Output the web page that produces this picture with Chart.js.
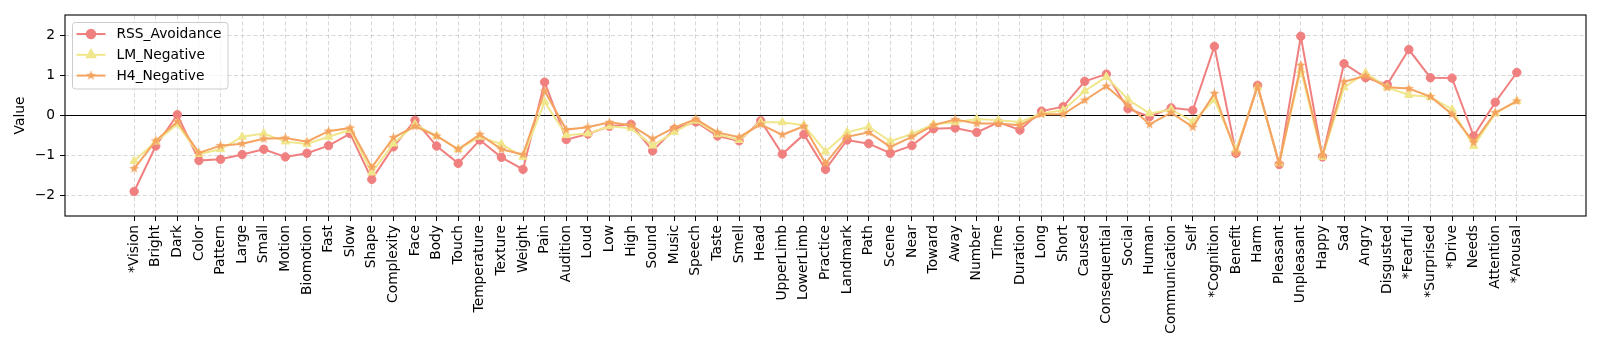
<!DOCTYPE html>
<html>
<head>
<meta charset="utf-8">
<script src="https://cdn.jsdelivr.net/npm/chart.js@4"></script>
<style>
body { margin: 0; background: #fff; }
</style>
</head>
<body>
<canvas id="dimChart" width="1600" height="350"></canvas>
<script>
var categories = ['*Vision', 'Bright', 'Dark', 'Color', 'Pattern', 'Large', 'Small', 'Motion', 'Biomotion', 'Fast',
    'Slow', 'Shape', 'Complexity', 'Face', 'Body', 'Touch', 'Temperature', 'Texture', 'Weight', 'Pain',
    'Audition', 'Loud', 'Low', 'High', 'Sound', 'Music', 'Speech', 'Taste', 'Smell', 'Head',
    'UpperLimb', 'LowerLimb', 'Practice', 'Landmark', 'Path', 'Scene', 'Near', 'Toward', 'Away', 'Number',
    'Time', 'Duration', 'Long', 'Short', 'Caused', 'Consequential', 'Social', 'Human', 'Communication', 'Self',
    '*Cognition', 'Benefit', 'Harm', 'Pleasant', 'Unpleasant', 'Happy', 'Sad', 'Angry', 'Disgusted', '*Fearful',
    '*Surprised', '*Drive', 'Needs', 'Attention', '*Arousal'];

var rssAvoidance = [-1.89, -0.76, 0.02, -1.12, -1.09, -0.97, -0.84, -1.03, -0.94, -0.75,
    -0.45, -1.59, -0.78, -0.12, -0.76, -1.19, -0.61, -1.04, -1.34, 0.83,
    -0.60, -0.46, -0.27, -0.22, -0.88, -0.34, -0.16, -0.51, -0.63, -0.13,
    -0.96, -0.47, -1.34, -0.61, -0.70, -0.94, -0.75, -0.33, -0.31, -0.42,
    -0.17, -0.36, 0.11, 0.22, 0.85, 1.03, 0.17, -0.03, 0.19, 0.13,
    1.72, -0.94, 0.75, -1.22, 1.97, -1.03, 1.29, 0.94, 0.77, 1.64,
    0.94, 0.93, -0.51, 0.33, 1.07];

var lmNegative = [-1.13, -0.65, -0.22, -0.96, -0.84, -0.53, -0.45, -0.65, -0.71, -0.53,
    -0.36, -1.42, -0.70, -0.22, -0.51, -0.84, -0.53, -0.71, -1.03, 0.34,
    -0.49, -0.45, -0.27, -0.32, -0.75, -0.41, -0.13, -0.47, -0.61, -0.17,
    -0.17, -0.24, -0.90, -0.42, -0.28, -0.64, -0.46, -0.22, -0.17, -0.09,
    -0.12, -0.16, 0.05, 0.13, 0.61, 0.96, 0.40, 0.05, 0.15, -0.15,
    0.39, -0.85, 0.70, -1.19, 1.13, -1.03, 0.70, 1.06, 0.70, 0.51,
    0.46, 0.15, -0.76, 0.05, 0.36];

var h4Negative = [-1.32, -0.63, -0.15, -0.93, -0.75, -0.70, -0.58, -0.56, -0.65, -0.39,
    -0.31, -1.29, -0.55, -0.27, -0.51, -0.84, -0.47, -0.84, -0.97, 0.61,
    -0.35, -0.29, -0.17, -0.24, -0.58, -0.30, -0.09, -0.42, -0.54, -0.22,
    -0.48, -0.27, -1.19, -0.53, -0.42, -0.78, -0.53, -0.24, -0.10, -0.20,
    -0.20, -0.24, 0.03, 0.03, 0.38, 0.73, 0.26, -0.22, 0.07, -0.29,
    0.55, -0.93, 0.73, -1.19, 1.25, -0.99, 0.84, 0.99, 0.70, 0.67,
    0.47, 0.03, -0.67, 0.07, 0.36];

var yTicks = [-2, -1, 0, 1, 2];

var fontFamily = "'DejaVu Sans', sans-serif";
var fontSize = 13.8;

function makeStar(color, outer, inner)
{
    var size = Math.ceil(outer * 2 + 2);
    var c = document.createElement('canvas');
    c.width = size;
    c.height = size;
    var g = c.getContext('2d');
    g.translate(size / 2, size / 2);
    g.beginPath();
    for (var k = 0; k < 10; k++) {
        var r = k % 2 === 0 ? outer : inner;
        var ang = -Math.PI / 2 + k * Math.PI / 5;
        g.lineTo(r * Math.cos(ang), r * Math.sin(ang));
    }
    g.closePath();
    g.fillStyle = color;
    g.fill();
    return c;
}

var series = [
    { label: 'RSS_Avoidance', data: rssAvoidance, color: '#f08080', style: 'circle', radius: 4.2 },
    { label: 'LM_Negative', data: lmNegative, color: '#f0e68c', style: 'triangle', radius: 4.8 },
    { label: 'H4_Negative', data: h4Negative, color: '#f4a460', style: makeStar('#f4a460', 5.2, 2.1), radius: 5 }
];

function toPoints(values)
{
    return values.map(function (v, i) { return { x: i, y: v }; });
}

var framePlugin = {
    id: 'frame',
    beforeDatasetsDraw: function (chart) {
        var ctx = chart.ctx;
        var a = chart.chartArea;
        var y0 = chart.scales.y.getPixelForValue(0);
        ctx.save();
        ctx.strokeStyle = '#000';
        ctx.lineWidth = 1;
        ctx.beginPath();
        ctx.moveTo(a.left, y0);
        ctx.lineTo(a.right, y0);
        ctx.stroke();
        ctx.restore();
    },
    afterDraw: function (chart) {
        var ctx = chart.ctx;
        var a = chart.chartArea;
        ctx.save();
        ctx.strokeStyle = '#000';
        ctx.lineWidth = 1.1;
        ctx.strokeRect(a.left, a.top, a.right - a.left, a.bottom - a.top);

        // legend box, upper left
        var bx = a.left + 7.5, by = a.top + 7.5, bw = 155.5, bh = 66.5;
        ctx.beginPath();
        ctx.roundRect(bx, by, bw, bh, 3);
        ctx.fillStyle = 'rgba(255,255,255,0.8)';
        ctx.fill();
        ctx.strokeStyle = '#cccccc';
        ctx.lineWidth = 1;
        ctx.stroke();

        ctx.font = fontSize + 'px ' + fontFamily;
        ctx.textBaseline = 'middle';
        ctx.textAlign = 'left';
        series.forEach(function (s, i) {
            var ly = a.top + 19 + i * 20.8;
            ctx.strokeStyle = s.color;
            ctx.lineWidth = 2;
            ctx.beginPath();
            ctx.moveTo(a.left + 11.5, ly);
            ctx.lineTo(a.left + 40.5, ly);
            ctx.stroke();
            ctx.fillStyle = s.color;
            Chart.helpers.drawPoint(ctx, { pointStyle: s.style, radius: s.radius, rotation: 0, borderWidth: 1 }, a.left + 26, ly);
            ctx.fillStyle = '#000';
            ctx.fillText(s.label, a.left + 51.5, ly + 0.5);
        });
        ctx.restore();
    }
};

var ctx = document.getElementById('dimChart').getContext('2d');

var myChart = new Chart(ctx, {
    type: 'line',
    data: {
        datasets: series.map(function (s, i) {
            return {
                label: s.label,
                data: toPoints(s.data),
                borderColor: s.color,
                backgroundColor: s.color,
                pointBackgroundColor: s.color,
                pointBorderColor: s.color,
                pointStyle: s.style,
                pointRadius: s.radius,
                pointBorderWidth: 1,
                borderWidth: 2,
                tension: 0,
                order: 2 - i
            };
        })
    },
    options: {
        responsive: false,
        animation: false,
        layout: { padding: { top: 15, right: 14, left: 0, bottom: 0 } },
        plugins: {
            legend: { display: false },
            tooltip: { enabled: false }
        },
        scales: {
            x: {
                type: 'linear',
                min: -3.2,
                max: 67.2,
                afterBuildTicks: function (axis) {
                    axis.ticks = categories.map(function (c, i) { return { value: i }; });
                },
                afterFit: function (axis) { axis.height = 134; },
                ticks: {
                    autoSkip: false,
                    maxRotation: 90,
                    minRotation: 90,
                    padding: 4,
                    color: '#000',
                    font: { family: fontFamily, size: fontSize },
                    callback: function (value) { return categories[value] !== undefined ? categories[value] : ''; }
                },
                grid: {
                    color: 'rgba(176,176,176,0.5)',
                    lineWidth: 1,
                    borderDash: [4, 2.5],
                    drawTicks: true,
                    tickLength: 5,
                    tickColor: '#000',
                    tickWidth: 1,
                    tickBorderDash: []
                },
                border: { display: false, dash: [4, 2.5] }
            },
            y: {
                min: -2.5,
                max: 2.5,
                afterBuildTicks: function (axis) {
                    axis.ticks = yTicks.map(function (v) { return { value: v }; });
                },
                afterFit: function (axis) { axis.width = 65; },
                ticks: {
                    padding: 5,
                    color: '#000',
                    font: { family: fontFamily, size: fontSize },
                    callback: function (value) { return value < 0 ? '\u2212' + Math.abs(value) : String(value); }
                },
                title: {
                    display: true,
                    text: 'Value',
                    color: '#000',
                    padding: { top: 12.5, bottom: 0 },
                    font: { family: fontFamily, size: fontSize }
                },
                grid: {
                    color: function (c) { return c.tick && c.tick.value === 0 ? 'rgba(0,0,0,0)' : 'rgba(176,176,176,0.5)'; },
                    lineWidth: 1,
                    borderDash: [4, 2.5],
                    drawTicks: true,
                    tickLength: 5,
                    tickColor: '#000',
                    tickWidth: 1,
                    tickBorderDash: []
                },
                border: { display: false, dash: [4, 2.5] }
            }
        }
    },
    plugins: [framePlugin]
});
</script>
</body>
</html>
